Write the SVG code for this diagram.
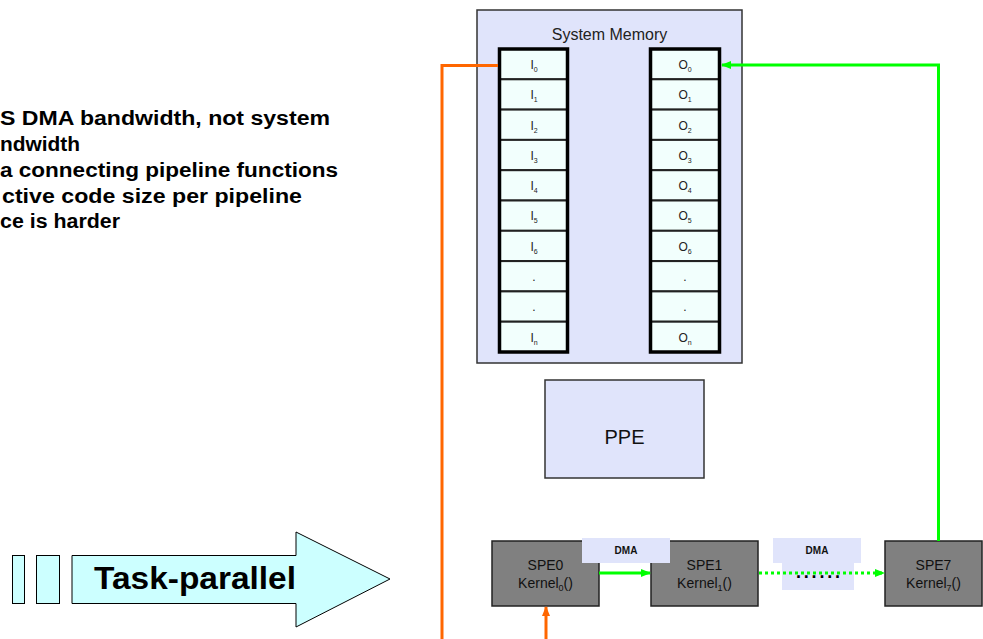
<svg xmlns="http://www.w3.org/2000/svg" width="983" height="639" viewBox="0 0 983 639">
<style>
  .bul { font-family: "Liberation Sans", Arial, sans-serif; font-weight: bold; font-size: 20px; fill: #000; }
  .cell { fill: #f2fffd; stroke: #222; stroke-width: 2; }
  .col { fill: none; stroke: #000; stroke-width: 3.5; }
  .lbl { font-family: "Liberation Sans", Arial, sans-serif; font-size: 12px; fill: #222; text-anchor: middle; }
  .sub { font-size: 7px; }
  .lav { fill: #e0e4fb; }
  .box { stroke: #333; stroke-width: 1.5; }
  .spe { fill: #808080; stroke: #222; stroke-width: 1.5; }
  .spet { font-family: "Liberation Sans", Arial, sans-serif; font-size: 14px; fill: #111; text-anchor: middle; }
  .ksub { font-size: 9px; }
  .dma { font-family: "Liberation Sans", Arial, sans-serif; font-size: 10px; font-weight: bold; fill: #111; text-anchor: middle; }
  .org { fill: none; stroke: #ff6600; stroke-width: 3; }
  .grn { fill: none; stroke: #00ff00; stroke-width: 3; }
</style>
<defs>
  <marker id="ahG" markerWidth="10" markerHeight="8" refX="9" refY="4" orient="auto" markerUnits="userSpaceOnUse">
    <path d="M0,0 L10,4 L0,8 Z" fill="#00ff00"/>
  </marker>
  <marker id="ahO" markerWidth="10" markerHeight="8" refX="9" refY="4" orient="auto" markerUnits="userSpaceOnUse">
    <path d="M0,0 L10,4 L0,8 Z" fill="#ff6600"/>
  </marker>
</defs>

<g id="bullets">
  <text class="bul" x="0" y="125" textLength="330" lengthAdjust="spacingAndGlyphs">S DMA bandwidth, not system</text>
  <text class="bul" x="0" y="151" textLength="80" lengthAdjust="spacingAndGlyphs">ndwidth</text>
  <text class="bul" x="0" y="177" textLength="338" lengthAdjust="spacingAndGlyphs">a connecting pipeline functions</text>
  <text class="bul" x="2" y="203" textLength="300" lengthAdjust="spacingAndGlyphs">ctive code size per pipeline</text>
  <text class="bul" x="0" y="228" textLength="120" lengthAdjust="spacingAndGlyphs">ce is harder</text>
</g>

<g id="task-parallel">
  <rect x="12.5" y="555.5" width="12" height="48" fill="#ccffff" stroke="#000" stroke-width="1"/>
  <rect x="36.5" y="555.5" width="23" height="48" fill="#ccffff" stroke="#000" stroke-width="1"/>
  <polygon points="72,555.5 296,555.5 296,532 390,579 296,627 296,603.5 72,603.5" fill="#ccffff" stroke="#000" stroke-width="1"/>
  <text x="94" y="589" font-family="Liberation Sans, Arial, sans-serif" font-weight="bold" font-size="31" textLength="202" lengthAdjust="spacingAndGlyphs">Task-parallel</text>
</g>

<g id="system-memory">
  <rect class="lav box" x="477" y="10" width="265" height="353"/>
  <text x="609.5" y="40" font-family="Liberation Sans, Arial, sans-serif" font-size="16" fill="#222" text-anchor="middle">System Memory</text>
</g>

<g id="input-column">
  <rect class="cell" x="499.5" y="49" width="68" height="30.3"/>
  <rect class="cell" x="499.5" y="79.3" width="68" height="30.3"/>
  <rect class="cell" x="499.5" y="109.6" width="68" height="30.3"/>
  <rect class="cell" x="499.5" y="139.9" width="68" height="30.3"/>
  <rect class="cell" x="499.5" y="170.2" width="68" height="30.3"/>
  <rect class="cell" x="499.5" y="200.5" width="68" height="30.3"/>
  <rect class="cell" x="499.5" y="230.8" width="68" height="30.3"/>
  <rect class="cell" x="499.5" y="261.1" width="68" height="30.3"/>
  <rect class="cell" x="499.5" y="291.4" width="68" height="30.3"/>
  <rect class="cell" x="499.5" y="321.7" width="68" height="30.3"/>
  <rect class="col" x="499.5" y="49" width="68" height="303"/>
  <text class="lbl" x="534" y="69">I<tspan class="sub" dy="3">0</tspan></text>
  <text class="lbl" x="534" y="99">I<tspan class="sub" dy="3">1</tspan></text>
  <text class="lbl" x="534" y="130">I<tspan class="sub" dy="3">2</tspan></text>
  <text class="lbl" x="534" y="160">I<tspan class="sub" dy="3">3</tspan></text>
  <text class="lbl" x="534" y="190">I<tspan class="sub" dy="3">4</tspan></text>
  <text class="lbl" x="534" y="220">I<tspan class="sub" dy="3">5</tspan></text>
  <text class="lbl" x="534" y="251">I<tspan class="sub" dy="3">6</tspan></text>
  <text class="lbl" x="534" y="281">.</text>
  <text class="lbl" x="534" y="311">.</text>
  <text class="lbl" x="534" y="342">I<tspan class="sub" dy="3">n</tspan></text>
</g>

<g id="output-column">
  <rect class="cell" x="650.5" y="49" width="69" height="30.3"/>
  <rect class="cell" x="650.5" y="79.3" width="69" height="30.3"/>
  <rect class="cell" x="650.5" y="109.6" width="69" height="30.3"/>
  <rect class="cell" x="650.5" y="139.9" width="69" height="30.3"/>
  <rect class="cell" x="650.5" y="170.2" width="69" height="30.3"/>
  <rect class="cell" x="650.5" y="200.5" width="69" height="30.3"/>
  <rect class="cell" x="650.5" y="230.8" width="69" height="30.3"/>
  <rect class="cell" x="650.5" y="261.1" width="69" height="30.3"/>
  <rect class="cell" x="650.5" y="291.4" width="69" height="30.3"/>
  <rect class="cell" x="650.5" y="321.7" width="69" height="30.3"/>
  <rect class="col" x="650.5" y="49" width="69" height="303"/>
  <text class="lbl" x="685" y="69">O<tspan class="sub" dy="3">0</tspan></text>
  <text class="lbl" x="685" y="99">O<tspan class="sub" dy="3">1</tspan></text>
  <text class="lbl" x="685" y="130">O<tspan class="sub" dy="3">2</tspan></text>
  <text class="lbl" x="685" y="160">O<tspan class="sub" dy="3">3</tspan></text>
  <text class="lbl" x="685" y="190">O<tspan class="sub" dy="3">4</tspan></text>
  <text class="lbl" x="685" y="220">O<tspan class="sub" dy="3">5</tspan></text>
  <text class="lbl" x="685" y="251">O<tspan class="sub" dy="3">6</tspan></text>
  <text class="lbl" x="685" y="281">.</text>
  <text class="lbl" x="685" y="311">.</text>
  <text class="lbl" x="685" y="342">O<tspan class="sub" dy="3">n</tspan></text>
</g>

<g id="ppe">
  <rect class="lav box" x="545" y="380" width="159" height="98"/>
  <text x="624.5" y="444" font-family="Liberation Sans, Arial, sans-serif" font-size="20" fill="#111" text-anchor="middle">PPE</text>
</g>

<g id="spe0">
  <rect class="spe" x="492" y="541" width="107" height="65"/>
  <text class="spet" x="545.5" y="570">SPE0</text>
  <text class="spet" x="545.5" y="588" font-size="13">Kernel<tspan class="ksub" dy="3">0</tspan><tspan dy="-3">()</tspan></text>
</g>

<g id="spe1">
  <rect class="spe" x="651" y="541" width="107" height="65"/>
  <text class="spet" x="704.5" y="570">SPE1</text>
  <text class="spet" x="704.5" y="588" font-size="13">Kernel<tspan class="ksub" dy="3">1</tspan><tspan dy="-3">()</tspan></text>
</g>

<g id="spe7">
  <rect class="spe" x="885" y="541" width="97" height="65"/>
  <text class="spet" x="933.5" y="570">SPE7</text>
  <text class="spet" x="933.5" y="588" font-size="13">Kernel<tspan class="ksub" dy="3">7</tspan><tspan dy="-3">()</tspan></text>
</g>

<g id="dma1">
  <rect class="lav" x="582" y="538" width="88" height="25"/>
  <text class="dma" x="626" y="554">DMA</text>
</g>

<g id="dma2">
  <rect class="lav" x="773" y="538" width="88" height="25"/>
  <rect class="lav" x="782" y="563" width="72" height="27"/>
  <text class="dma" x="817" y="554">DMA</text>
</g>

<g id="connectors">
  <polyline class="org" points="498,65.5 442,65.5 442,639"/>
  <line class="org" x1="546" y1="639" x2="546" y2="607" marker-end="url(#ahO)"/>
  <line class="grn" x1="599" y1="573" x2="650" y2="573" marker-end="url(#ahG)"/>
  <line class="grn" x1="759" y1="573" x2="884" y2="573" stroke-dasharray="3 3" marker-end="url(#ahG)"/>
  <polyline class="grn" points="938.5,541 938.5,65 722,65" marker-end="url(#ahG)"/>
  <text x="818" y="578" font-family="Liberation Sans, Arial, sans-serif" font-weight="bold" font-size="18" fill="#000" text-anchor="middle" textLength="44" lengthAdjust="spacing">......</text>
</g>
</svg>
